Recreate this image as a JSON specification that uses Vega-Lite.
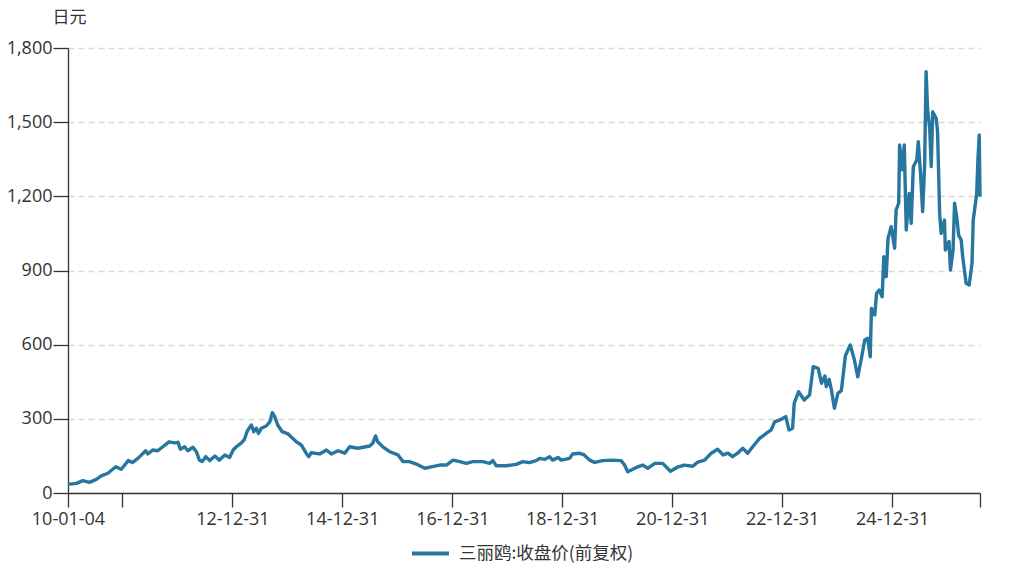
{
  "$schema": "https://vega.github.io/schema/vega-lite/v6.json",
  "width": 912,
  "height": 445,
  "autosize": "none",
  "padding": {"left": 68, "top": 48, "right": 42, "bottom": 77},
  "background": "white",
  "data": {
    "values": [
      {"date": "2010-01-04", "close": 35},
      {"date": "2010-03-01", "close": 39},
      {"date": "2010-04-13", "close": 50},
      {"date": "2010-05-26", "close": 43},
      {"date": "2010-07-11", "close": 55},
      {"date": "2010-08-13", "close": 69},
      {"date": "2010-09-26", "close": 80},
      {"date": "2010-11-17", "close": 106},
      {"date": "2010-12-24", "close": 96},
      {"date": "2011-02-08", "close": 131},
      {"date": "2011-03-07", "close": 123},
      {"date": "2011-04-13", "close": 140},
      {"date": "2011-06-04", "close": 171},
      {"date": "2011-06-18", "close": 158},
      {"date": "2011-07-21", "close": 174},
      {"date": "2011-08-23", "close": 171},
      {"date": "2011-09-26", "close": 187},
      {"date": "2011-11-06", "close": 207},
      {"date": "2011-12-13", "close": 203},
      {"date": "2012-01-05", "close": 205},
      {"date": "2012-01-20", "close": 177},
      {"date": "2012-02-18", "close": 187},
      {"date": "2012-03-10", "close": 171},
      {"date": "2012-04-13", "close": 185},
      {"date": "2012-05-06", "close": 167},
      {"date": "2012-05-26", "close": 133},
      {"date": "2012-06-14", "close": 127},
      {"date": "2012-07-07", "close": 147},
      {"date": "2012-08-03", "close": 131},
      {"date": "2012-09-06", "close": 150},
      {"date": "2012-10-04", "close": 133},
      {"date": "2012-11-11", "close": 154},
      {"date": "2012-12-13", "close": 144},
      {"date": "2013-01-05", "close": 174},
      {"date": "2013-01-26", "close": 187},
      {"date": "2013-03-01", "close": 203},
      {"date": "2013-03-21", "close": 217},
      {"date": "2013-04-03", "close": 241},
      {"date": "2013-04-13", "close": 255},
      {"date": "2013-05-06", "close": 275},
      {"date": "2013-05-22", "close": 248},
      {"date": "2013-06-08", "close": 262},
      {"date": "2013-06-22", "close": 241},
      {"date": "2013-07-11", "close": 262},
      {"date": "2013-08-13", "close": 271},
      {"date": "2013-09-06", "close": 288},
      {"date": "2013-09-22", "close": 325},
      {"date": "2013-10-08", "close": 309},
      {"date": "2013-10-28", "close": 275},
      {"date": "2013-11-27", "close": 248},
      {"date": "2014-01-05", "close": 239},
      {"date": "2014-02-04", "close": 221},
      {"date": "2014-03-01", "close": 207},
      {"date": "2014-04-03", "close": 194},
      {"date": "2014-05-06", "close": 160},
      {"date": "2014-05-22", "close": 147},
      {"date": "2014-06-08", "close": 163},
      {"date": "2014-08-03", "close": 158},
      {"date": "2014-09-16", "close": 174},
      {"date": "2014-10-19", "close": 158},
      {"date": "2014-12-03", "close": 171},
      {"date": "2015-01-16", "close": 161},
      {"date": "2015-02-18", "close": 187},
      {"date": "2015-04-13", "close": 181},
      {"date": "2015-07-01", "close": 190},
      {"date": "2015-07-21", "close": 201},
      {"date": "2015-08-09", "close": 231},
      {"date": "2015-08-23", "close": 207},
      {"date": "2015-09-26", "close": 187},
      {"date": "2015-11-11", "close": 167},
      {"date": "2016-01-05", "close": 154},
      {"date": "2016-02-08", "close": 127},
      {"date": "2016-03-21", "close": 127},
      {"date": "2016-05-06", "close": 117},
      {"date": "2016-07-01", "close": 100},
      {"date": "2016-08-13", "close": 106},
      {"date": "2016-10-08", "close": 113},
      {"date": "2016-11-21", "close": 113},
      {"date": "2017-01-05", "close": 133},
      {"date": "2017-02-18", "close": 127},
      {"date": "2017-04-03", "close": 120},
      {"date": "2017-05-16", "close": 127},
      {"date": "2017-07-21", "close": 127},
      {"date": "2017-09-06", "close": 120},
      {"date": "2017-09-26", "close": 131},
      {"date": "2017-10-19", "close": 110},
      {"date": "2017-12-24", "close": 110},
      {"date": "2018-03-01", "close": 116},
      {"date": "2018-04-13", "close": 127},
      {"date": "2018-05-26", "close": 123},
      {"date": "2018-07-11", "close": 131},
      {"date": "2018-08-03", "close": 140},
      {"date": "2018-09-06", "close": 136},
      {"date": "2018-10-08", "close": 147},
      {"date": "2018-10-28", "close": 133},
      {"date": "2018-12-03", "close": 144},
      {"date": "2018-12-24", "close": 133},
      {"date": "2019-02-18", "close": 140},
      {"date": "2019-03-10", "close": 158},
      {"date": "2019-04-23", "close": 161},
      {"date": "2019-05-26", "close": 154},
      {"date": "2019-07-01", "close": 133},
      {"date": "2019-08-03", "close": 124},
      {"date": "2019-09-26", "close": 131},
      {"date": "2019-11-21", "close": 133},
      {"date": "2020-01-26", "close": 131},
      {"date": "2020-02-18", "close": 113},
      {"date": "2020-03-10", "close": 86},
      {"date": "2020-04-13", "close": 96},
      {"date": "2020-05-16", "close": 106},
      {"date": "2020-06-18", "close": 113},
      {"date": "2020-07-21", "close": 100},
      {"date": "2020-09-06", "close": 120},
      {"date": "2020-10-28", "close": 120},
      {"date": "2020-12-19", "close": 88},
      {"date": "2021-02-08", "close": 106},
      {"date": "2021-03-21", "close": 113},
      {"date": "2021-05-16", "close": 108},
      {"date": "2021-06-18", "close": 125},
      {"date": "2021-08-03", "close": 133},
      {"date": "2021-09-16", "close": 161},
      {"date": "2021-10-28", "close": 177},
      {"date": "2021-12-03", "close": 154},
      {"date": "2022-01-05", "close": 161},
      {"date": "2022-02-04", "close": 147},
      {"date": "2022-03-10", "close": 161},
      {"date": "2022-04-13", "close": 181},
      {"date": "2022-05-16", "close": 161},
      {"date": "2022-06-18", "close": 187},
      {"date": "2022-08-03", "close": 221},
      {"date": "2022-09-16", "close": 241},
      {"date": "2022-10-19", "close": 255},
      {"date": "2022-11-11", "close": 288},
      {"date": "2022-12-24", "close": 298},
      {"date": "2023-01-24", "close": 309},
      {"date": "2023-02-14", "close": 255},
      {"date": "2023-03-10", "close": 262},
      {"date": "2023-03-21", "close": 363},
      {"date": "2023-04-19", "close": 410},
      {"date": "2023-05-26", "close": 376},
      {"date": "2023-07-01", "close": 396},
      {"date": "2023-07-25", "close": 511},
      {"date": "2023-08-27", "close": 504},
      {"date": "2023-09-18", "close": 444},
      {"date": "2023-10-11", "close": 473},
      {"date": "2023-10-20", "close": 430},
      {"date": "2023-11-08", "close": 460},
      {"date": "2023-11-23", "close": 417},
      {"date": "2023-12-13", "close": 343},
      {"date": "2024-01-05", "close": 403},
      {"date": "2024-01-28", "close": 414},
      {"date": "2024-02-24", "close": 555},
      {"date": "2024-03-27", "close": 599},
      {"date": "2024-04-23", "close": 540},
      {"date": "2024-05-16", "close": 470},
      {"date": "2024-06-08", "close": 540},
      {"date": "2024-07-01", "close": 619},
      {"date": "2024-07-21", "close": 626},
      {"date": "2024-08-07", "close": 551},
      {"date": "2024-08-15", "close": 747},
      {"date": "2024-09-06", "close": 720},
      {"date": "2024-09-18", "close": 808},
      {"date": "2024-10-05", "close": 821},
      {"date": "2024-10-25", "close": 794},
      {"date": "2024-11-05", "close": 956},
      {"date": "2024-11-21", "close": 875},
      {"date": "2024-12-03", "close": 1030},
      {"date": "2024-12-24", "close": 1077},
      {"date": "2025-01-16", "close": 990},
      {"date": "2025-01-26", "close": 1145},
      {"date": "2025-02-12", "close": 1172},
      {"date": "2025-02-18", "close": 1408},
      {"date": "2025-03-07", "close": 1307},
      {"date": "2025-03-21", "close": 1408},
      {"date": "2025-04-03", "close": 1064},
      {"date": "2025-04-23", "close": 1212},
      {"date": "2025-05-06", "close": 1091},
      {"date": "2025-05-20", "close": 1320},
      {"date": "2025-06-12", "close": 1347},
      {"date": "2025-06-22", "close": 1421},
      {"date": "2025-07-07", "close": 1293},
      {"date": "2025-07-21", "close": 1138},
      {"date": "2025-08-03", "close": 1320},
      {"date": "2025-08-13", "close": 1704},
      {"date": "2025-08-23", "close": 1549},
      {"date": "2025-09-06", "close": 1475},
      {"date": "2025-09-16", "close": 1320},
      {"date": "2025-09-26", "close": 1542},
      {"date": "2025-10-19", "close": 1515},
      {"date": "2025-10-28", "close": 1462},
      {"date": "2025-11-11", "close": 1131},
      {"date": "2025-11-21", "close": 1050},
      {"date": "2025-12-13", "close": 1104},
      {"date": "2025-12-19", "close": 983},
      {"date": "2026-01-12", "close": 1017},
      {"date": "2026-01-22", "close": 902},
      {"date": "2026-02-08", "close": 983},
      {"date": "2026-02-18", "close": 1172},
      {"date": "2026-03-04", "close": 1118},
      {"date": "2026-03-17", "close": 1044},
      {"date": "2026-04-03", "close": 1023},
      {"date": "2026-04-13", "close": 956},
      {"date": "2026-05-06", "close": 848},
      {"date": "2026-05-26", "close": 841},
      {"date": "2026-06-14", "close": 929},
      {"date": "2026-06-22", "close": 1104},
      {"date": "2026-07-07", "close": 1172},
      {"date": "2026-07-15", "close": 1212},
      {"date": "2026-07-23", "close": 1347},
      {"date": "2026-08-01", "close": 1448},
      {"date": "2026-08-06", "close": 1198}
    ]
  },
  "transform": [{"calculate": "'三丽鸥:收盘价(前复权)'", "as": "series"}],
  "mark": {"type": "line", "strokeWidth": 3.4, "strokeJoin": "round", "interpolate": "linear"},
  "encoding": {
    "x": {
      "field": "date",
      "type": "temporal",
      "scale": {
        "type": "utc",
        "nice": false,
        "domain": [
          {"year": 2010, "month": 1, "date": 4, "utc": true},
          {"year": 2026, "month": 8, "date": 6, "utc": true}
        ]
      },
      "axis": {
        "title": null,
        "grid": false,
        "values": [
          {"year": 2010, "month": 1, "date": 4, "utc": true},
          {"year": 2010, "month": 12, "date": 31, "utc": true},
          {"year": 2012, "month": 12, "date": 31, "utc": true},
          {"year": 2014, "month": 12, "date": 31, "utc": true},
          {"year": 2016, "month": 12, "date": 31, "utc": true},
          {"year": 2018, "month": 12, "date": 31, "utc": true},
          {"year": 2020, "month": 12, "date": 31, "utc": true},
          {"year": 2022, "month": 12, "date": 31, "utc": true},
          {"year": 2024, "month": 12, "date": 31, "utc": true},
          {"year": 2026, "month": 8, "date": 6, "utc": true}
        ],
        "labelExpr": "(utcyear(datum.value) == 2010 && utcmonth(datum.value) == 11) || utcyear(datum.value) == 2026 ? '' : utcFormat(datum.value, '%y-%m-%d')",
        "labelFlush": false,
        "labelOverlap": false,
        "tickSize": 14,
        "labelPadding": 3
      }
    },
    "y": {
      "field": "close",
      "type": "quantitative",
      "scale": {"domain": [0, 1800], "nice": false},
      "axis": {
        "values": [0, 300, 600, 900, 1200, 1500, 1800],
        "format": ",d",
        "title": "日元",
        "titleAngle": 0,
        "titleAlign": "center",
        "titleBaseline": "middle",
        "titleX": 1,
        "titleY": -31,
        "titleFontWeight": "normal",
        "titleFontSize": 17,
        "titleFont": "Noto Sans CJK SC",
        "tickSize": 15,
        "labelPadding": 1,
        "gridDash": [6, 4],
        "gridColor": "#d9d9d9",
        "gridWidth": 1.3
      }
    },
    "color": {
      "field": "series",
      "type": "nominal",
      "scale": {"range": ["#27769f"]},
      "legend": {
        "title": null,
        "orient": "none",
        "legendX": 342,
        "legendY": 485,
        "symbolType": "stroke",
        "symbolSize": 1369,
        "symbolStrokeWidth": 4,
        "labelFontSize": 17.5,
        "labelFont": "Noto Sans CJK SC",
        "labelLimit": 400,
        "labelColor": "#333333",
        "labelOffset": 8
      }
    }
  },
  "config": {
    "font": "Open Sans",
    "view": {"stroke": null},
    "axis": {
      "domainColor": "#333333",
      "tickColor": "#333333",
      "domainWidth": 1.3,
      "tickWidth": 1.3,
      "labelColor": "#333333",
      "labelFontSize": 18,
      "titleColor": "#333333",
      "labelFont": "Open Sans"
    }
  }
}
